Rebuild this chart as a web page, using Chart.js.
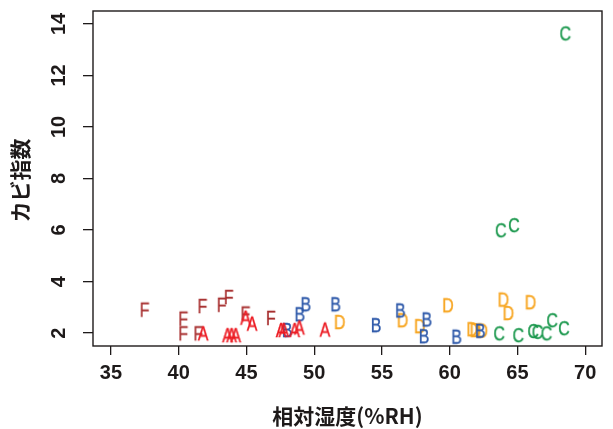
<!DOCTYPE html>
<html>
<head>
<meta charset="utf-8">
<script src="https://cdn.jsdelivr.net/npm/chart.js@4.4.0/dist/chart.umd.min.js"></script>
<style>
  html, body { margin: 0; padding: 0; background: #fff; }
  #c { display: block; }
</style>
</head>
<body>
<canvas id="c" width="613" height="429"></canvas>
<script>
// Axis tick values
const xTickValues = [35, 40, 45, 50, 55, 60, 65, 70];
const yTickValues = [2, 4, 6, 8, 10, 12, 14];

// Group A
const aHumidity = [41.8, 43.6, 43.9, 44.2, 44.93, 45.41, 47.55, 47.75, 48.55, 48.9, 50.79];
const aMold     = [1.99, 1.92, 1.92, 1.92, 2.6, 2.37, 2.12, 2.12, 2.12, 2.22, 2.14];
// Group B
const bHumidity = [48.0, 48.93, 49.37, 51.57, 54.56, 56.35, 58.3, 58.1, 60.5, 62.25];
const bMold     = [2.12, 2.73, 3.12, 3.12, 2.31, 2.88, 2.53, 1.88, 1.86, 2.09];
// Group C
const cHumidity = [63.65, 63.77, 64.74, 65.06, 66.16, 66.48, 67.14, 67.56, 68.43, 68.53];
const cMold     = [1.99, 5.99, 6.19, 1.92, 2.08, 2.05, 1.99, 2.5, 2.19, 13.63];
// Group D
const dHumidity = [51.88, 56.52, 57.79, 59.87, 61.66, 61.9, 62.4, 63.96, 64.33, 65.96];
const dMold     = [2.43, 2.5, 2.27, 3.08, 2.15, 2.12, 2.1, 3.3, 2.78, 3.2];
// Group F
const fHumidity = [37.49, 40.34, 40.34, 41.76, 41.46, 43.18, 43.7, 44.93, 46.81];
const fMold     = [2.91, 2.56, 1.99, 3.05, 1.99, 3.1, 3.4, 2.76, 2.59];

const groupNames  = ['A', 'B', 'C', 'D', 'F'];
const groupColors = ['#ec1c24', '#2a56a8', '#17964a', '#f7a520', '#a52a2a'];
const groupX = [aHumidity, bHumidity, cHumidity, dHumidity, fHumidity];
const groupY = [aMold, bMold, cMold, dMold, fMold];

const xTitle = '相対湿度(%RH)';
const yTitle = 'カビ指数';

const latin = '"Liberation Sans", Arial, Helvetica, sans-serif';
const ink = '#1e1a1a';

// Each point is drawn as its group letter (a small canvas used as point style)
function letterGlyph(ch, color) {
  const cv = document.createElement('canvas');
  cv.width = 26; cv.height = 30;
  const g = cv.getContext('2d');
  g.fillStyle = color;
  g.strokeStyle = color;
  g.lineWidth = 0.35;
  g.font = '20px ' + latin;
  g.textAlign = 'center';
  g.textBaseline = 'alphabetic';
  g.translate(cv.width / 2, cv.height / 2 + 7.1);
  g.scale(0.8, 1);
  g.fillText(ch, 0, 0);
  g.strokeText(ch, 0, 0);
  return cv;
}

const framePlugin = {
  id: 'frame',
  afterDraw(chart) {
    const ctx = chart.ctx;
    const a = chart.chartArea;
    ctx.save();
    // full box around the plot region
    ctx.strokeStyle = ink;
    ctx.lineWidth = 1.4;
    ctx.strokeRect(a.left, a.top, a.right - a.left, a.bottom - a.top);

    // y tick labels, written parallel to the axis
    const ys = chart.scales.y;
    ctx.fillStyle = ink;
    ctx.font = 'bold 20px ' + latin;
    ctx.textAlign = 'center';
    ctx.textBaseline = 'middle';
    yTickValues.forEach(v => {
      const py = ys.getPixelForValue(v);
      ctx.save();
      ctx.translate(59, py);
      ctx.rotate(-Math.PI / 2);
      ctx.fillText(String(v), 0, 0);
      ctx.restore();
    });

    // axis titles
    ctx.font = 'bold 21px "Noto Sans CJK JP", sans-serif';
    ctx.fillText(xTitle, (a.left + a.right) / 2, 416);
    ctx.save();
    ctx.translate(20, (a.top + a.bottom) / 2 + 2);
    ctx.rotate(-Math.PI / 2);
    ctx.fillText(yTitle, 0, 0);
    ctx.restore();
    ctx.restore();
  }
};

function build() {
  const datasets = groupNames.map((name, i) => ({
    label: name,
    data: groupX[i].map((x, k) => ({ x: x, y: groupY[i][k] })),
    pointStyle: letterGlyph(name, groupColors[i]),
    pointRadius: 10,
    showLine: false
  }));

  new Chart(document.getElementById('c'), {
    type: 'scatter',
    data: { datasets: datasets },
    options: {
      responsive: false,
      animation: false,
      devicePixelRatio: 1,
      events: [],
      layout: { padding: { top: 8, right: 7, left: 0, bottom: 0 } },
      plugins: { legend: { display: false }, tooltip: { enabled: false } },
      scales: {
        x: {
          type: 'linear',
          min: 33.68,
          max: 71.24,
          afterBuildTicks: s => { s.ticks = xTickValues.map(v => ({ value: v })); },
          afterFit: s => { s.height = 83; },
          border: { display: false },
          grid: { drawOnChartArea: false, drawTicks: true, tickLength: 9, color: ink, lineWidth: 1.3 },
          ticks: {
            autoSkip: false, maxRotation: 0, minRotation: 0,
            color: ink, padding: 6,
            font: { family: latin, weight: 'bold', size: 20 }
          }
        },
        y: {
          type: 'linear',
          min: 1.5,
          max: 14.5,
          afterBuildTicks: s => { s.ticks = yTickValues.map(v => ({ value: v })); },
          afterFit: s => { s.width = 93; },
          border: { display: false },
          grid: { drawOnChartArea: false, drawTicks: true, tickLength: 10, color: ink, lineWidth: 1.3 },
          ticks: { display: false }
        }
      }
    },
    plugins: [framePlugin]
  });
}

// make sure the system fonts are ready before anything is painted
Promise.all([
  document.fonts.load('20px "Liberation Sans"'),
  document.fonts.load('bold 20px "Liberation Sans"'),
  document.fonts.load('bold 21px "Noto Sans CJK JP"', xTitle + yTitle)
]).catch(() => {}).then(build);
</script>
</body>
</html>
